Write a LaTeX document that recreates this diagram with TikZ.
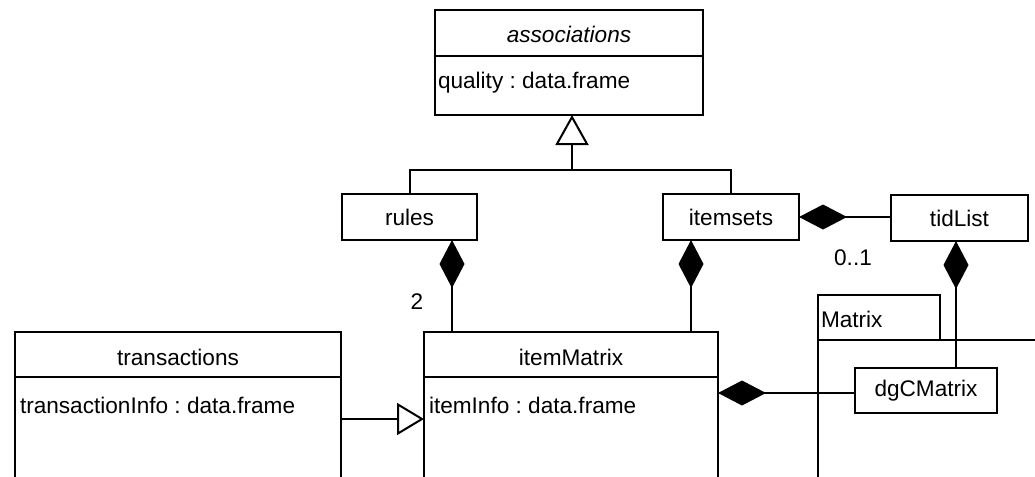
\documentclass[tikz,border=0pt]{standalone}
\usepackage{fontspec}
\setmainfont{Liberation Sans}
\usetikzlibrary{arrows.meta,calc}
\frenchspacing
\begin{document}
\begin{tikzpicture}[x=0.5pt,y=-0.5pt, line width=1pt,
  every node/.style={font=\fontsize{11.3}{13.5}\selectfont, inner sep=0pt, outer sep=0pt},
  box/.style={draw, rectangle, anchor=north west, fill=white},
  comp/.style={{Diamond[length=24pt,width=12.5pt]}-},
  genup/.style={-{Triangle[open,length=15pt,width=16.5pt]}},
  genlow/.style={-{Triangle[open,length=13.5pt,width=16pt]}},
  lbl/.style={anchor=west},
]
\useasboundingbox (0,0) rectangle (1035,477);
\clip (0,0) rectangle (1035,477);

% associations
\node[box, minimum width=134pt, minimum height=52.5pt] (assoc) at (435,10) {};
\draw ($(assoc.north west)+(0,46)$) -- ($(assoc.north east)+(0,46)$);
\node[font=\fontsize{11.3}{13.5}\selectfont\itshape] (assocname) at (569,34) {associations};
\node[lbl] (assocattr) at (438,83) {quality : data.frame};

% rules, itemsets, tidList
\node[box, minimum width=67.5pt, minimum height=23pt] (rules) at (342,194) {rules};
\node[box, minimum width=68pt, minimum height=23pt] (itemsets) at (663,194) {itemsets};
\node[box, minimum width=68.5pt, minimum height=23pt] (tidList) at (891,195) {tidList};

% Matrix package
\node[box, minimum width=141pt, minimum height=100pt] (matrixbody) at (818,340) {};
\node[box, minimum width=61pt, minimum height=22.5pt] (matrixtab) at (818,295) {};
\node[lbl] (matrixname) at (821,319) {Matrix};

% dgCMatrix
\node[box, minimum width=71pt, minimum height=22.5pt] (dgc) at (855,368) {};

% transactions
\node[box, minimum width=163pt, minimum height=100pt] (transactions) at (15,332) {};
\draw ($(transactions.north west)+(0,45)$) -- ($(transactions.north east)+(0,45)$);
\node (transname) at (178,357) {transactions};
\node[lbl] (transattr) at (20,405) {transactionInfo : data.frame};

% itemMatrix
\node[box, minimum width=147pt, minimum height=100pt] (itemMatrix) at (424,332) {};
\draw ($(itemMatrix.north west)+(0,45)$) -- ($(itemMatrix.north east)+(0,45)$);
\node (imname) at (571,357) {itemMatrix};
\node[lbl] (imattr) at (429,405) {itemInfo : data.frame};

% generalization (rules, itemsets -> associations)
\coordinate (g) at (572,170);
\draw (rules.north) |- (g) -| (itemsets.north);
\draw[genup] (g) -- (g |- assoc.south);

% generalization transactions -> itemMatrix
\coordinate (t) at (0,419);
\draw[genlow] (transactions.east |- t) -- (itemMatrix.west |- t);

% compositions
\coordinate (rx) at (452,0);
\draw[comp] (rx |- rules.south) -- (rx |- itemMatrix.north);
\coordinate (ix) at (691,0);
\draw[comp] (ix |- itemsets.south) -- (ix |- itemMatrix.north);
\draw[comp] (itemsets.east) -- (tidList.west |- itemsets.east);
\coordinate (tx) at (956,0);
\draw[comp] (tx |- tidList.south) -- (tx |- dgc.north);
\coordinate (my) at (0,393);
\draw[comp] (itemMatrix.east |- my) -- (dgc.west |- my);

% redraw dgCMatrix on top
\node[box, minimum width=71pt, minimum height=22.5pt] (dgc2) at (855,368) {dgCMatrix};

% multiplicities
\node (two) at (417,302) {2};
\node (zeroone) at (853,258) {0..1};
\end{tikzpicture}
\end{document}
